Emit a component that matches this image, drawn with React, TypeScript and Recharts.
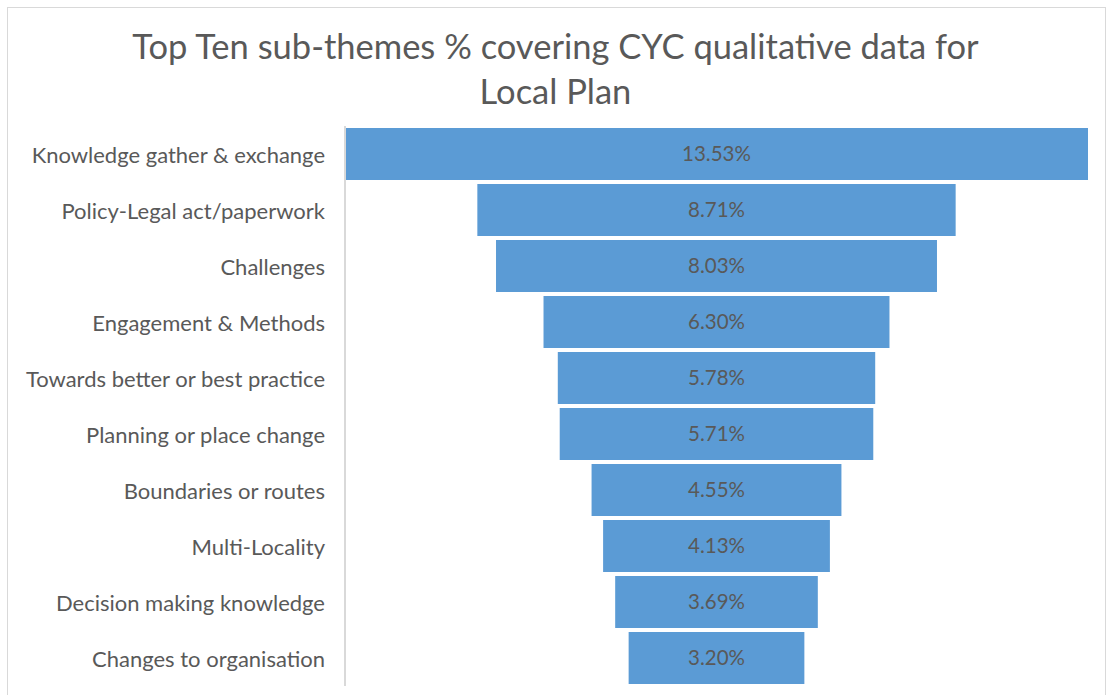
import React from 'react';
import { BarChart, Bar, XAxis, YAxis, LabelList } from 'recharts';

const categories = [
  'Knowledge gather & exchange',
  'Policy-Legal act/paperwork',
  'Challenges',
  'Engagement & Methods',
  'Towards better or best practice',
  'Planning or place change',
  'Boundaries or routes',
  'Multi-Locality',
  'Decision making knowledge',
  'Changes to organisation',
];

const shares = [13.53, 8.71, 8.03, 6.3, 5.78, 5.71, 4.55, 4.13, 3.69, 3.2];

const maxShare = Math.max(...shares);

// funnel: a transparent spacer pushes each bar to the centre
const chartData = categories.map((name, i) => ({
  name,
  pad: (maxShare - shares[i]) / 2,
  value: shares[i],
}));

const font = 'Lato, "Open Sans", sans-serif';

export default function App() {
  return (
    <div
      style={{
        position: 'absolute',
        left: 0,
        top: 0,
        width: 1109,
        height: 695,
        background: '#fff',
        overflow: 'hidden',
        fontFamily: font,
      }}
    >
      <div
        style={{
          position: 'absolute',
          left: 7,
          top: 7,
          width: 1097,
          height: 700,
          border: '1.5px solid #d9d9d9',
          borderBottom: 'none',
        }}
      />
      <div
        style={{
          position: 'absolute',
          left: 0,
          top: 23,
          width: 1111,
          textAlign: 'center',
          fontSize: 34.5,
          lineHeight: '45px',
          color: '#595959',
        }}
      >
        Top Ten sub-themes % covering CYC qualitative data for
        <br />
        Local Plan
      </div>
      <div style={{ position: 'absolute', left: 0, top: 0 }}>
        <BarChart
          width={1109}
          height={695}
          data={chartData}
          layout="vertical"
          margin={{ top: 126, right: 21, bottom: 9, left: 0 }}
          barCategoryGap={2}
        >
          <XAxis type="number" domain={[0, maxShare]} hide />
          <YAxis
            type="category"
            dataKey="name"
            width={345}
            tickLine={false}
            tickSize={0}
            tickMargin={20}
            axisLine={{ stroke: '#d9d9d9', strokeWidth: 2 }}
            tick={{ fill: '#595959', fontSize: 22, fontFamily: font, dy: 1 }}
            interval={0}
          />
          <Bar dataKey="pad" stackId="f" fill="transparent" isAnimationActive={false} />
          <Bar dataKey="value" stackId="f" fill="#5b9bd5" isAnimationActive={false}>
            <LabelList
              dataKey="value"
              position="center"
              formatter={(v: number) => `${v.toFixed(2)}%`}
              style={{ fill: '#595959', fontSize: 20.5, fontFamily: font }}
            />
          </Bar>
        </BarChart>
      </div>
    </div>
  );
}
